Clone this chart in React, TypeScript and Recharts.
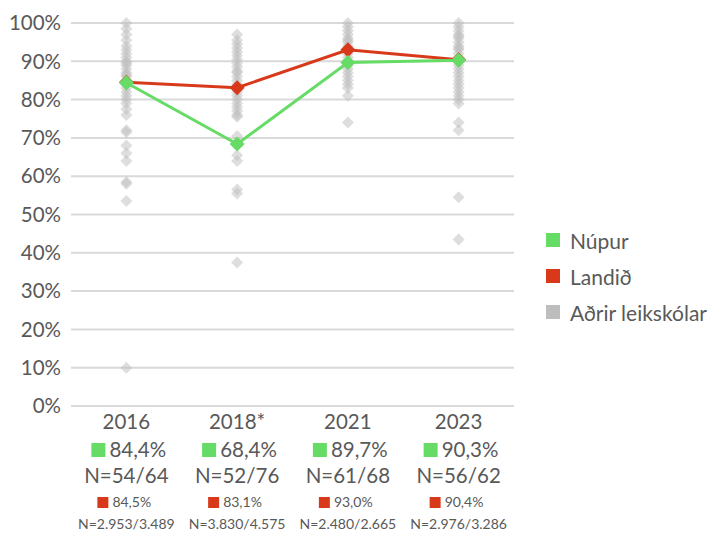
import { ScatterChart, Scatter, XAxis, YAxis, CartesianGrid } from "recharts";

// categories and series
const years = ["2016", "2018*", "2021", "2023"];
const nupurValues = [84.4, 68.4, 89.7, 90.3];
const nupurN = ["N=54/64", "N=52/76", "N=61/68", "N=56/62"];
const landidValues = [84.5, 83.1, 93.0, 90.4];
const landidN = ["N=2.953/3.489", "N=3.830/4.575", "N=2.480/2.665", "N=2.976/3.286"];

// other preschools
const others2016 = [100, 98.5, 97, 95.5, 94, 93, 92, 91, 90, 89.5, 89, 88, 87, 86.5, 86, 85, 84, 83, 82, 81, 80, 79, 77.5, 76, 72, 71.5, 68, 66, 64, 58.5, 58, 53.5, 10];
const others2018 = [97, 95.5, 94.5, 93.5, 92.5, 91.5, 90.5, 89.5, 88.5, 87.5, 87, 86, 85, 84, 83, 82, 81, 80, 79, 78, 77, 76, 75.5, 70.5, 65.5, 64, 56.5, 55.5, 37.5];
const others2021 = [100, 99, 98, 97, 96, 95.5, 95, 94, 93, 92, 91, 90, 89, 88, 87, 86, 85, 84, 83, 81, 74];
const others2023 = [100, 99, 98, 97, 96.5, 96, 95, 94, 93.5, 93, 92, 91, 90, 89, 88, 87, 86, 85, 84, 83, 82, 81, 80, 79, 74, 72, 54.5, 43.5];

const yTicks = [0, 10, 20, 30, 40, 50, 60, 70, 80, 90, 100];
const legendLabels = ["Núpur", "Landið", "Aðrir leikskólar"];

const GREEN = "#66dc66";
const RED = "#d9391b";
const GRAY = "#bdbdbd";
const TEXT = "#595959";
const FONT = "Lato, 'Open Sans', sans-serif";

const nupurData = nupurValues.map((v, i) => ({ x: i, y: v }));
const landidData = landidValues.map((v, i) => ({ x: i, y: v }));
const othersData = [others2016, others2018, others2021, others2023].flatMap((arr, i) =>
  arr.map((v) => ({ x: i, y: v }))
);

const pct = (v: number) => v.toFixed(1).replace(".", ",") + "%";

const diamond = (half: number, fill: string, opacity = 1) => (props: any) => {
  const { cx, cy } = props;
  if (cx == null || cy == null) return <g />;
  return (
    <polygon
      points={`${cx},${cy - half} ${cx + half},${cy} ${cx},${cy + half} ${cx - half},${cy}`}
      fill={fill}
      fillOpacity={opacity}
    />
  );
};

const TableTick = (props: any) => {
  const { x, y, payload } = props;
  const i = payload.value as number;
  if (i < 0 || i > 3) return <g />;
  return (
    <g fontFamily={FONT} fill={TEXT}>
      <text x={x} y={y + 23} textAnchor="middle" fontSize={20.5}>
        {years[i]}
      </text>
      <rect x={x - 35} y={y + 37} width={14} height={14} fill={GREEN} />
      <text x={x - 17} y={y + 51} textAnchor="start" fontSize={20.5}>
        {pct(nupurValues[i])}
      </text>
      <text x={x} y={y + 77} textAnchor="middle" fontSize={20.5}>
        {nupurN[i]}
      </text>
      <rect x={x - 29} y={y + 91} width={11} height={11} fill={RED} />
      <text x={x - 14} y={y + 101} textAnchor="start" fontSize={14}>
        {pct(landidValues[i])}
      </text>
      <text x={x} y={y + 123} textAnchor="middle" fontSize={14}>
        {landidN[i]}
      </text>
    </g>
  );
};

export default function App() {
  const legendColors = [GREEN, RED, GRAY];
  return (
    <div style={{ position: "absolute", left: 0, top: 0, width: 716, height: 533, background: "#fff" }}>
      <ScatterChart width={716} height={533} margin={{ top: 23, right: 202, left: 0, bottom: 0 }}>
        <CartesianGrid vertical={false} stroke="#d9d9d9" strokeWidth={2} />
        <XAxis
          type="number"
          dataKey="x"
          domain={[-0.5, 3.5]}
          ticks={[0, 1, 2, 3]}
          interval={0}
          axisLine={false}
          tickLine={false}
          tickSize={0}
          tickMargin={0}
          height={127}
          tick={<TableTick />}
        />
        <YAxis
          type="number"
          dataKey="y"
          domain={[0, 100]}
          ticks={yTicks}
          interval={0}
          tickFormatter={(v: number) => `${v}%`}
          axisLine={false}
          tickLine={false}
          tickSize={0}
          tickMargin={10}
          width={71}
          tick={{ fontSize: 20.5, fill: TEXT, fontFamily: FONT }}
        />
        <Scatter data={othersData} fill={GRAY} shape={diamond(6, GRAY, 0.5)} isAnimationActive={false} />
        <Scatter
          data={landidData}
          fill={RED}
          line={{ stroke: RED, strokeWidth: 3 }}
          shape={diamond(7.5, RED)}
          isAnimationActive={false}
        />
        <Scatter
          data={nupurData}
          fill={GREEN}
          line={{ stroke: GREEN, strokeWidth: 3 }}
          shape={diamond(7.5, GREEN)}
          isAnimationActive={false}
        />
      </ScatterChart>
      <div style={{ position: "absolute", left: 546, top: 222, fontFamily: FONT, color: TEXT, fontSize: 21 }}>
        {legendLabels.map((label, i) => (
          <div key={label} style={{ display: "flex", alignItems: "center", height: 36, whiteSpace: "nowrap" }}>
            <span style={{ width: 14, height: 14, background: legendColors[i], marginRight: 10, display: "inline-block", flexShrink: 0 }} />
            {label}
          </div>
        ))}
      </div>
    </div>
  );
}
